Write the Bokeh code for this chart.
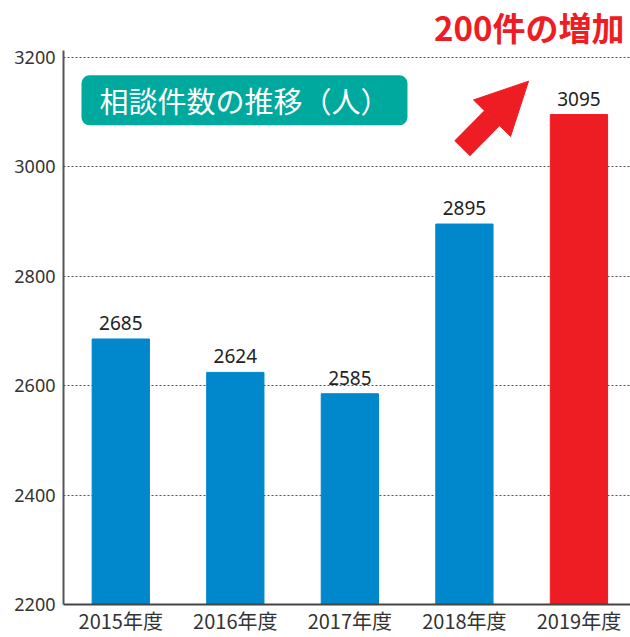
from bokeh.plotting import figure
from bokeh.models import ColumnDataSource, Label, Arrow, NormalHead, FixedTicker, Range1d
from bokeh.core.properties import value
from bokeh.embed import file_html
from bokeh.resources import INLINE

years = ["2015年度", "2016年度", "2017年度", "2018年度", "2019年度"]
counts = [2685, 2624, 2585, 2895, 3095]
bar_colors = ["#0087CC", "#0087CC", "#0087CC", "#0087CC", "#EE1D24"]
y_ticks = [2200, 2400, 2600, 2800, 3000, 3200]

xs = list(range(len(years)))
src = ColumnDataSource(dict(x=xs, top=counts, color=bar_colors,
                            label=[str(c) for c in counts]))

p = figure(width=630, height=637, output_backend="svg", toolbar_location=None,
           x_range=Range1d(-0.5, 4.45), y_range=Range1d(2200, 3212),
           min_border_left=63, min_border_right=0, min_border_top=46,
           min_border_bottom=31)
p.outline_line_color = None
p.background_fill_color = "white"

p.title.text = "200件の増加"
p.title.align = "right"
p.title.text_color = "#EE1D24"
p.title.text_font = "Noto Sans CJK JP"
p.title.text_font_size = "33px"
p.title.text_font_style = "bold"
p.title.offset = 6
p.title.standoff = 0

p.vbar(x="x", top="top", bottom=2200, width=0.5, color="color", source=src)
p.text(x="x", y="top", text="label", source=src, y_offset=-9,
       text_align="center", text_baseline="bottom", text_font=value("Noto Sans"),
       text_font_size="19px", text_color="#222222")

p.xaxis.ticker = FixedTicker(ticks=xs)
p.xaxis.major_label_overrides = {i: y for i, y in enumerate(years)}
p.xaxis.major_label_text_font = "Noto Sans CJK JP"
p.xaxis.major_label_text_font_size = "20px"
p.xaxis.major_label_text_color = "#333333"
p.xaxis.major_tick_line_color = None
p.xaxis.minor_tick_line_color = None
p.xaxis.major_tick_out = 0
p.xaxis.major_tick_in = 0
p.xaxis.minor_tick_out = 0
p.xaxis.axis_line_color = "#444444"
p.xaxis.axis_line_width = 2
p.xaxis.major_label_standoff = 1

p.yaxis.ticker = FixedTicker(ticks=y_ticks)
p.yaxis.major_label_text_font = "Noto Sans"
p.yaxis.major_label_text_font_size = "18px"
p.yaxis.major_label_text_color = "#333333"
p.yaxis.major_tick_line_color = None
p.yaxis.minor_tick_line_color = None
p.yaxis.major_tick_out = 0
p.yaxis.major_tick_in = 0
p.yaxis.minor_tick_out = 0
p.yaxis.axis_line_color = "#555555"
p.yaxis.axis_line_width = 2
p.yaxis.major_label_standoff = 8

p.xgrid.grid_line_color = None
p.ygrid.grid_line_color = "#555555"
p.ygrid.grid_line_dash = "2 2"
p.ygrid.grid_line_width = 1

title_box = Label(x=1.08, y=3121, text="相談件数の推移（人）", text_align="center",
                  text_baseline="middle", text_color="white",
                  text_font="Noto Sans CJK JP", text_font_size="29px",
                  background_fill_color="#00A99D", border_radius=8,
                  padding=(18, 4))
p.add_layout(title_box)

arrow = Arrow(x_start=2.98, y_start=3033, x_end=3.56, y_end=3156,
              line_color="#EE1D24", line_width=22,
              end=NormalHead(size=52, fill_color="#EE1D24", line_color="#EE1D24"))
p.add_layout(arrow)

open("out.html", "w").write(file_html(p, INLINE))
